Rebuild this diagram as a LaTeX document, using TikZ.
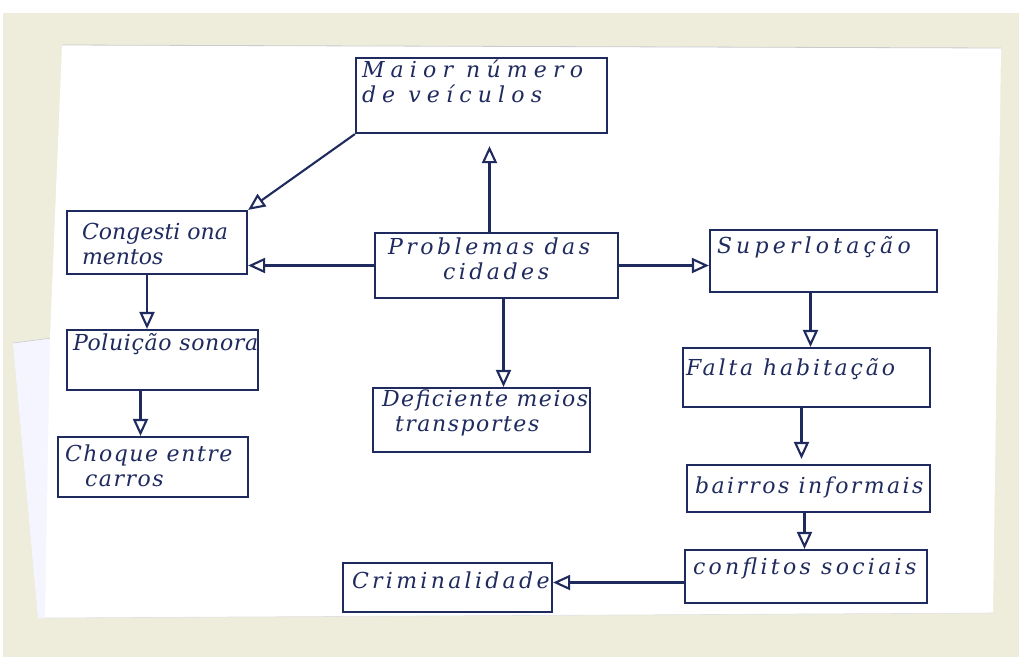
\documentclass[tikz,border=0pt]{standalone}
\usepackage{fontspec}
\setmainfont{DejaVu Serif}
\newfontfamily\handfont{DejaVu Serif Italic}
\usetikzlibrary{arrows.meta}
\definecolor{ink}{HTML}{1F2A5E}
\definecolor{paper}{HTML}{EEEDDB}
\definecolor{sheetedge}{HTML}{C9CBCF}
% text block of a card: width, height, left pad, top pad, tracking, lines
\newcommand\cardtext[6]{\makebox[#1pt][l]{\parbox[c][#2pt][t]{\dimexpr#1pt+80pt\relax}{\vspace*{#4pt}\leftskip=#3pt\relax\parindent=0pt\handfont\fontsize{22}{25}\selectfont\addfontfeature{LetterSpace=#5}#6\par}}}
\tikzset{
  card/.style={draw=ink, line width=2.2pt, inner sep=0pt, text=ink},
  conn/.style={draw=ink, line width=2.1pt, -{Triangle[open, length=17pt, width=15pt]}},
}
\begin{document}
\begin{tikzpicture}[x=1pt, y=-1pt]
\useasboundingbox (0,0) rectangle (1019,657);
% scanner bed and paper sheets
\fill[white] (0,0) rectangle (1019,657);
\fill[paper] (3,13) rectangle (1019,657);
\fill[white!96!blue] (13,343) -- (52,338) -- (48,618) -- (38,618) -- cycle;
\draw[sheetedge, line width=0.6pt] (13,343) -- (52,338);
\fill[white] (62,45) -- (1001,48) -- (993,613) -- (45,618) -- (50,338) -- cycle;
\draw[sheetedge, line width=0.8pt] (62,45) -- (1001,48);
\draw[sheetedge!60, line width=0.6pt] (45,618) -- (993,613);

% cards
\node[card] (maior)   at (481.5,95.5) {\cardtext{251}{75}{6}{2}{28}{Maior número\\de veículos}};
\node[card] (congest) at (157,242.5)  {\cardtext{180}{63}{15}{12}{0}{Congesti ona\\mentos}};
\node[card] (prob)    at (496.5,265.5){\cardtext{243}{65}{13}{5}{16}{Problemas das\\\hspace*{55pt}cidades}};
\node[card] (super)   at (823.5,261)  {\cardtext{227}{62}{7}{6}{19}{Superlotação}};
\node[card] (polu)    at (162.5,360)  {\cardtext{191}{60}{6}{3}{3}{Poluição sonora}};
\node[card] (choque)  at (153,467)    {\cardtext{190}{60}{7}{8}{7}{Choque entre\\\hspace*{20pt}carros}};
\node[card] (defic)   at (481.5,420)  {\cardtext{217}{64}{9}{2}{7}{Deficiente meios\\\hspace*{13pt}transportes}};
\node[card] (falta)   at (806.5,377.5){\cardtext{247}{59}{3}{10}{13}{Falta habitação}};
\node[card] (bairros) at (808.5,488.5){\cardtext{243}{47}{8}{12}{11}{bairros informais}};
\node[card] (confl)   at (806,576.5)  {\cardtext{242}{53}{8}{8}{15}{conflitos sociais}};
\node[card] (crim)    at (447.5,587.5){\cardtext{209}{49}{9}{9}{15}{Criminalidade}};

% connectors
\draw[conn] (maior.south west) -- (congest.north east);
\draw[conn, shorten >=12pt] ([xshift=-7pt]prob.north) -- ([xshift=-7pt]prob.north |- maior.south);
\draw[conn] (prob.west) -- (prob.west -| congest.east);
\draw[conn] (prob.east) -- (prob.east -| super.west);
\draw[conn] ([xshift=7pt]prob.south) -- ([xshift=7pt]prob.south |- defic.north);
\draw[conn] ([xshift=-10pt]congest.south) -- ([xshift=-10pt]congest.south |- polu.north);
\draw[conn] ([xshift=-22pt]polu.south) -- ([xshift=-22pt]polu.south |- choque.north);
\draw[conn] ([xshift=-13pt]super.south) -- ([xshift=-13pt]super.south |- falta.north);
\draw[conn, shorten >=5pt] ([xshift=-5pt]falta.south) -- ([xshift=-5pt]falta.south |- bairros.north);
\draw[conn] ([xshift=-4pt]bairros.south) -- ([xshift=-4pt]bairros.south |- confl.north);
\draw[conn] ([yshift=-6pt]confl.west) -- ([yshift=-6pt]confl.west -| crim.east);
\end{tikzpicture}
\end{document}
